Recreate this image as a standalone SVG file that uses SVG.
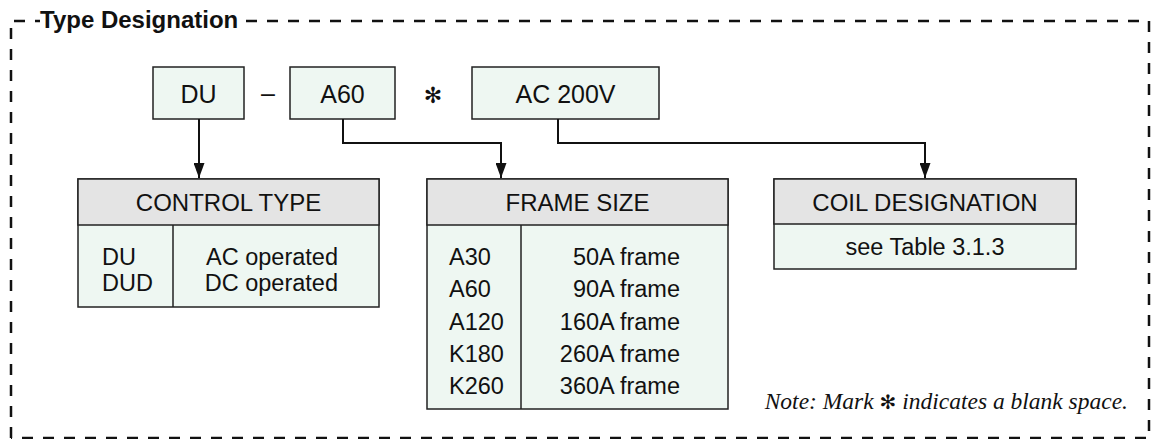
<svg xmlns="http://www.w3.org/2000/svg" width="1160" height="439" viewBox="0 0 1160 439">
<defs>
<marker id="arr" markerWidth="15" markerHeight="11" refX="15" refY="5.5" orient="auto" markerUnits="userSpaceOnUse" viewBox="0 0 15 11">
<path d="M0,0 L15,5.5 L0,11 Z" fill="#111"/>
</marker>
<style>
.t{font-family:"Liberation Sans",Arial,sans-serif;fill:#111}
.box{fill:#eef7f2;stroke:#222;stroke-width:1.5}
.hdr{fill:#e4e4e4;stroke:#222;stroke-width:1.5}
.ln{fill:none;stroke:#222;stroke-width:1.5}
.con{fill:none;stroke:#111;stroke-width:2}
.bd{fill:none;stroke:#111;stroke-width:2.5;stroke-dasharray:11 10}
.bt{font-size:25px;text-anchor:middle}
.ht{font-size:24px;text-anchor:middle}
.rt{font-size:23.5px}
</style>
</defs>
<g id="border">
<path class="bd" d="M11,438 L11,21 L40,21"/>
<path class="bd" d="M246,21 L1149,21 L1149,438 L11,438"/>
<text class="t" x="40" y="28" font-size="24" font-weight="bold">Type Designation</text>
</g>
<g id="code-du">
<rect class="box" x="153" y="67" width="91" height="52"/>
<text class="t bt" x="198.5" y="103">DU</text>
</g>
<text class="t" x="268" y="102" font-size="25" text-anchor="middle">–</text>
<g id="code-a60">
<rect class="box" x="290" y="67" width="105" height="52"/>
<text class="t bt" x="342.5" y="103">A60</text>
</g>
<text x="433" y="103" font-family="DejaVu Sans,sans-serif" font-size="22" font-weight="bold" text-anchor="middle" fill="#111">✻</text>
<g id="code-ac200v">
<rect class="box" x="472" y="67" width="187" height="52"/>
<text class="t bt" x="565.5" y="103">AC 200V</text>
</g>
<g id="connectors">
<path class="con" d="M199,119 L199,178" marker-end="url(#arr)"/>
<path class="con" d="M343,119 L343,143 L501,143 L501,178" marker-end="url(#arr)"/>
<path class="con" d="M558,119 L558,143 L925,143 L925,178" marker-end="url(#arr)"/>
</g>
<g id="control-type">
<rect class="box" x="78" y="179" width="301" height="128"/>
<rect class="hdr" x="78" y="179" width="301" height="46"/>
<line class="ln" x1="173" y1="225" x2="173" y2="307"/>
<text class="t ht" x="228.5" y="211">CONTROL TYPE</text>
<text class="t rt" x="102" y="265">DU</text>
<text class="t rt" x="102" y="291">DUD</text>
<text class="t rt" x="338" y="265" text-anchor="end">AC operated</text>
<text class="t rt" x="338" y="291" text-anchor="end">DC operated</text>
</g>
<g id="frame-size">
<rect class="box" x="427" y="179" width="301" height="230"/>
<rect class="hdr" x="427" y="179" width="301" height="46"/>
<line class="ln" x1="521" y1="225" x2="521" y2="409"/>
<text class="t ht" x="577.5" y="211">FRAME SIZE</text>
<text class="t rt" x="449" y="265">A30</text>
<text class="t rt" x="449" y="297">A60</text>
<text class="t rt" x="449" y="329.5">A120</text>
<text class="t rt" x="449" y="362">K180</text>
<text class="t rt" x="449" y="394">K260</text>
<text class="t rt" x="680" y="265" text-anchor="end">50A frame</text>
<text class="t rt" x="680" y="297" text-anchor="end">90A frame</text>
<text class="t rt" x="680" y="329.5" text-anchor="end">160A frame</text>
<text class="t rt" x="680" y="362" text-anchor="end">260A frame</text>
<text class="t rt" x="680" y="394" text-anchor="end">360A frame</text>
</g>
<g id="coil-designation">
<rect class="box" x="774" y="179" width="302" height="90"/>
<rect class="hdr" x="774" y="179" width="302" height="45"/>
<text class="t ht" x="925" y="211">COIL DESIGNATION</text>
<text class="t rt" x="925" y="255" text-anchor="middle">see Table 3.1.3</text>
</g>
<g id="note">
<text x="1128" y="409" font-family="Liberation Serif,'Times New Roman',serif" font-style="italic" font-size="23.5" text-anchor="end" fill="#111">Note: Mark <tspan font-family="DejaVu Sans,sans-serif" font-style="normal" font-weight="bold" font-size="20">✻</tspan> indicates a blank space.</text>
</g>
</svg>
